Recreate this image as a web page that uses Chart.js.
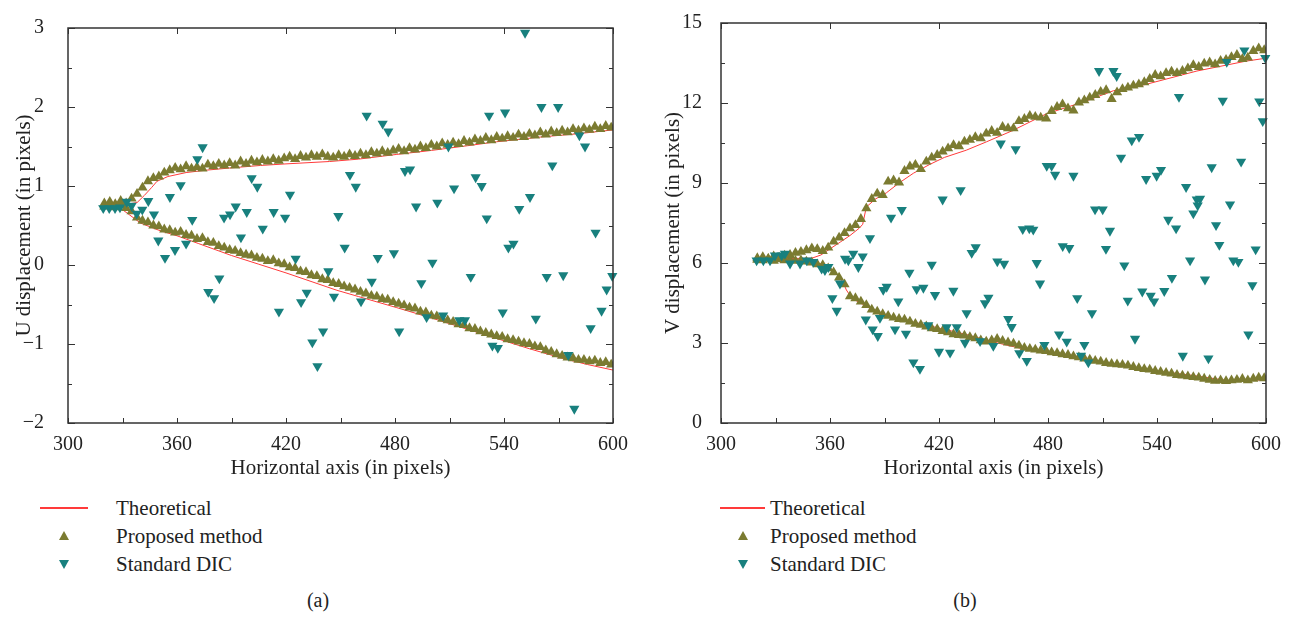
<!DOCTYPE html>
<html>
<head>
<meta charset="utf-8">
<script src="https://cdn.jsdelivr.net/npm/chart.js@4.4.1/dist/chart.umd.min.js"></script>
<style>
  html, body { margin: 0; padding: 0; background: #fff; }
  #page { position: relative; width: 1296px; height: 618px; overflow: hidden; font-family: "Liberation Serif", "DejaVu Serif", serif; color: #222; }
  canvas { position: absolute; top: 0; }
  .legend { position: absolute; top: 494px; }
  .row { position: absolute; left: 0; height: 28px; display: flex; align-items: center; font-size: 21px; white-space: nowrap; }
  .icon { position: relative; height: 28px; }
  .line { position: absolute; left: 0; top: 13px; height: 2px; background: #ff3a3a; }
  .up, .down { position: absolute; width: 0; height: 0; border-left: 5px solid transparent; border-right: 5px solid transparent; }
  .up { top: 9px; border-bottom: 9px solid #7b7b31; }
  .down { top: 10px; border-top: 9px solid #18807e; }
  .caption { position: absolute; top: 589px; font-size: 20px; width: 60px; text-align: center; }
</style>
</head>
<body>
<div id="page">
  <canvas id="chartU" width="648" height="490" style="left:0"></canvas>
  <canvas id="chartV" width="648" height="490" style="left:648px"></canvas>
  <div class="legend" id="legendU" style="left:40px"></div>
  <div class="legend" id="legendV" style="left:720px"></div>
  <div class="caption" style="left:288px">(a)</div>
  <div class="caption" style="left:935px">(b)</div>
</div>
<script>
const colors = { theory: "#ff3a3a", proposed: "#7b7b31", dic: "#18807e", frame: "#333" };
const seriesNames = ["Theoretical", "Proposed method", "Standard DIC"];

// sample positions of the proposed method (pixels)
const xGrid = [
  320, 323, 326, 329, 332, 335, 338, 341, 344, 347,
  350, 353, 356, 359, 362, 365, 368, 371, 374, 377,
  380, 383, 386, 389, 392, 395, 398, 401, 404, 407,
  410, 413, 416, 419, 422, 425, 428, 431, 434, 437,
  440, 443, 446, 449, 452, 455, 458, 461, 464, 467,
  470, 473, 476, 479, 482, 485, 488, 491, 494, 497,
  500, 503, 506, 509, 512, 515, 518, 521, 524, 527,
  530, 533, 536, 539, 542, 545, 548, 551, 554, 557,
  560, 563, 566, 569, 572, 575, 578, 581, 584, 587,
  590, 593, 596, 599,
];

// (a) U displacement, proposed method
const uUpper = [
  0.78, 0.80, 0.77, 0.81, 0.78, 0.84, 0.90, 0.98, 1.06, 1.10,
  1.12, 1.17, 1.20, 1.23, 1.21, 1.25, 1.22, 1.24, 1.22, 1.27,
  1.25, 1.28, 1.26, 1.29, 1.26, 1.31, 1.28, 1.32, 1.30, 1.33,
  1.31, 1.34, 1.32, 1.35, 1.37, 1.34, 1.38, 1.36, 1.39, 1.37,
  1.40, 1.37, 1.36, 1.39, 1.37, 1.40, 1.38, 1.41, 1.39, 1.43,
  1.41, 1.44, 1.42, 1.45, 1.47, 1.44, 1.48, 1.46, 1.50, 1.48,
  1.52, 1.50, 1.54, 1.52, 1.55, 1.53, 1.57, 1.55, 1.59, 1.57,
  1.61, 1.58, 1.62, 1.60, 1.63, 1.61, 1.65, 1.62, 1.66, 1.64,
  1.68, 1.65, 1.69, 1.67, 1.70, 1.68, 1.72, 1.70, 1.73, 1.71,
  1.75, 1.72, 1.76, 1.74,
];
const uLower = [
  0.74, 0.77, 0.73, 0.76, 0.72, 0.68, 0.60, 0.56, 0.54, 0.50,
  0.49, 0.45, 0.44, 0.41, 0.42, 0.38, 0.37, 0.33, 0.34, 0.29,
  0.28, 0.24, 0.22, 0.19, 0.18, 0.15, 0.13, 0.12, 0.09, 0.08,
  0.05, 0.06, 0.02, 0.01, -0.03, -0.04, -0.08, -0.09, -0.13, -0.14,
  -0.18, -0.19, -0.23, -0.24, -0.27, -0.29, -0.31, -0.34, -0.36, -0.39,
  -0.40, -0.43, -0.44, -0.47, -0.49, -0.51, -0.54, -0.55, -0.59, -0.60,
  -0.64, -0.65, -0.68, -0.70, -0.72, -0.75, -0.76, -0.80, -0.81, -0.84,
  -0.86, -0.88, -0.90, -0.91, -0.94, -0.95, -0.97, -0.99, -1.00, -1.03,
  -1.04, -1.08, -1.10, -1.13, -1.15, -1.17, -1.18, -1.20, -1.20, -1.22,
  -1.21, -1.24, -1.23, -1.26,
];

// (a) theoretical curves
const uTheoryUpperX = [320, 330, 338, 342, 346, 349, 355, 365, 376, 390, 406, 420, 444, 460, 481, 500, 520, 536, 560, 580, 600];
const uTheoryUpperY = [0.74, 0.76, 0.79, 0.88, 0.98, 1.06, 1.12, 1.17, 1.20, 1.23, 1.26, 1.28, 1.31, 1.34, 1.40, 1.45, 1.51, 1.56, 1.62, 1.66, 1.71];
const uTheoryLowerX = [320, 330, 340, 350, 360, 372, 390, 405, 420, 448, 460, 481, 500, 518, 536, 554, 572, 586, 600];
const uTheoryLowerY = [0.75, 0.70, 0.53, 0.44, 0.37, 0.27, 0.12, 0.01, -0.10, -0.32, -0.40, -0.54, -0.67, -0.80, -0.93, -1.06, -1.18, -1.26, -1.33];

// (a) standard DIC
const uDicX = [
  319.4, 322.7, 325.9, 328.6, 332.3, 335.0, 337.8, 340.9, 344.2, 347.3,
  349.7, 353.4, 356.1, 358.9, 362.0, 365.0, 368.4, 371.2, 374.1, 377.2,
  380.4, 383.3, 385.9, 389.2, 392.3, 395.2, 398.4, 401.1, 404.2, 407.2,
  413.2, 416.1, 419.5, 422.2, 425.3, 428.3, 431.4, 434.5, 437.3, 440.4,
  443.3, 446.4, 448.8, 452.3, 455.2, 458.4, 461.3, 464.4, 467.2, 470.5,
  473.2, 476.3, 479.4, 482.3, 485.5, 488.3, 491.6, 494.5, 497.4, 500.6,
  503.3, 506.5, 509.4, 512.5, 515.4, 518.5, 521.7, 524.4, 527.7, 530.5,
  531.8, 533.6, 536.6, 539.3, 540.6, 542.4, 545.2, 548.4, 551.6, 554.3,
  557.5, 560.6, 563.5, 566.6, 569.8, 572.6, 575.4, 578.7, 581.5, 584.6,
  587.7, 590.4, 593.7, 596.5, 599.6,
];
const uDicY = [
  0.72, 0.72, 0.72, 0.73, 0.80, 0.75, 0.65, 0.70, 0.81, 0.64,
  0.31, 0.09, 0.86, 0.19, 1.01, 0.27, 0.57, 1.34, 1.49, -0.34,
  -0.42, -0.17, 0.60, 0.64, 0.74, 0.35, 0.67, 1.10, 0.99, 0.46,
  0.67, -0.59, 0.60, 0.89, 0.08, -0.47, -0.35, -0.98, -1.28, -0.84,
  -0.08, -0.40, 0.62, 0.22, 1.14, 0.99, -0.46, 1.89, -0.21, 0.09,
  1.79, 1.69, 0.15, -0.84, 1.19, 1.21, 0.74, -0.23, -0.66, 0.03,
  0.79, -0.64, 1.50, 0.97, -0.70, -0.70, -0.15, 1.11, 1.00, 0.59,
  1.89, -1.02, -1.05, -0.60, 1.93, 0.22, 0.27, 0.71, 2.94, 0.86,
  -0.68, 2.00, -0.15, 1.26, 2.00, -0.13, -1.14, -1.82, 1.64, 1.50,
  -0.80, 0.41, -0.58, -0.31, -0.14,
];

// (b) V displacement, proposed method
const vUpper = [
  6.18, 6.22, 6.15, 6.25, 6.20, 6.28, 6.30, 6.38, 6.42, 6.48,
  6.55, 6.52, 6.45, 6.58, 6.80, 6.95, 7.12, 7.30, 7.42, 7.65,
  8.05, 8.40, 8.60, 8.55, 9.05, 9.10, 9.02, 9.45, 9.62, 9.68,
  9.52, 9.80, 9.95, 10.05, 10.18, 10.30, 10.42, 10.38, 10.55, 10.62,
  10.72, 10.68, 10.85, 10.95, 10.88, 11.10, 11.05, 11.05, 11.32, 11.40,
  11.52, 11.48, 11.45, 11.42, 11.70, 11.85, 11.95, 11.80, 11.72, 12.02,
  12.10, 12.20, 12.30, 12.42, 12.48, 12.15, 12.40, 12.52, 12.58, 12.65,
  12.70, 12.78, 12.90, 13.05, 13.00, 13.12, 13.18, 13.12, 13.20, 13.30,
  13.42, 13.35, 13.48, 13.52, 13.45, 13.58, 13.62, 13.72, 13.80, 13.65,
  13.70, 13.95, 14.05, 13.98,
];
const vLower = [
  6.12, 6.10, 6.15, 6.08, 6.14, 6.10, 6.12, 6.08, 6.10, 6.05,
  6.02, 5.95, 5.92, 5.80, 5.65, 5.45, 5.20, 4.75, 4.68, 4.55,
  4.42, 4.25, 4.18, 4.08, 4.02, 3.95, 3.90, 3.88, 3.80, 3.72,
  3.68, 3.62, 3.55, 3.52, 3.45, 3.40, 3.33, 3.30, 3.28, 3.22,
  3.18, 3.10, 3.05, 3.10, 3.15, 3.08, 3.02, 2.98, 2.90, 2.82,
  2.78, 2.75, 2.72, 2.70, 2.65, 2.62, 2.58, 2.55, 2.50, 2.46,
  2.42, 2.38, 2.33, 2.30, 2.25, 2.22, 2.20, 2.18, 2.15, 2.10,
  2.06, 2.02, 2.00, 1.95, 1.92, 1.88, 1.85, 1.80, 1.78, 1.75,
  1.72, 1.70, 1.66, 1.62, 1.58, 1.60, 1.57, 1.60, 1.62, 1.65,
  1.60, 1.66, 1.70, 1.68,
];

// (b) theoretical curves
const vTheoryUpperX = [320, 350, 355, 360, 366, 371, 376, 378, 380, 385, 391, 398, 406, 415, 423, 435, 446, 460, 479, 500, 516, 534, 562, 589, 600];
const vTheoryUpperY = [6.15, 6.18, 6.30, 6.53, 6.80, 7.03, 7.30, 7.45, 8.10, 8.40, 8.63, 9.00, 9.37, 9.70, 9.96, 10.23, 10.54, 10.95, 11.59, 12.05, 12.46, 12.70, 13.20, 13.57, 13.68];
const vTheoryLowerX = [320, 350, 356, 362, 367, 369, 372, 378, 389, 408, 435, 448, 470, 500, 540, 560, 580, 600];
const vTheoryLowerY = [6.15, 6.05, 5.95, 5.73, 5.30, 4.99, 4.68, 4.45, 4.03, 3.75, 3.32, 3.07, 2.72, 2.40, 1.95, 1.78, 1.58, 1.62];

// (b) standard DIC
const vDicX = [
  319.6, 323.3, 327.0, 329.7, 333.4, 335.2, 338.0, 343.5, 347.2, 350.8,
  355.4, 357.2, 359.1, 361.3, 363.7, 365.5, 368.3, 370.1, 372.8, 375.6,
  378.0, 382.0, 379.7, 383.5, 386.3, 387.5, 389.3, 391.2, 393.6, 399.5,
  395.8, 397.6, 401.8, 403.7, 405.9, 409.5, 407.7, 411.4, 414.1, 416.0,
  417.8, 420.0, 422.0, 424.2, 426.1, 427.9, 429.8, 431.9, 434.3, 435.2,
  438.0, 440.2, 442.6, 445.3, 447.2, 449.9, 452.1, 454.0, 455.8, 458.1,
  460.0, 462.2, 464.2, 466.1, 468.3, 469.7, 471.9, 473.8, 475.6, 478.0,
  479.3, 482.0, 483.9, 486.1, 488.1, 490.3, 491.7, 494.0, 496.1, 498.2,
  500.0, 502.2, 504.2, 505.9, 508.1, 510.1, 511.9, 514.1, 516.0, 517.8,
  520.2, 522.0, 523.9, 526.1, 527.9, 530.1, 531.9, 534.0, 536.5, 538.4,
  539.8, 542.2, 544.0, 546.2, 548.2, 550.5, 552.1, 554.2, 556.0, 558.2,
  560.0, 561.9, 562.4, 563.7, 566.4, 568.3, 570.1, 572.5, 574.3, 576.2,
  578.4, 580.2, 582.0, 584.8, 586.3, 588.1, 590.3, 592.5, 594.3, 596.3,
  598.2, 599.6,
];
const vDicY = [
  6.10, 6.10, 6.10, 6.28, 6.28, 6.35, 5.98, 5.98, 6.10, 6.04,
  5.79, 5.73, 5.85, 4.68, 4.21, 5.23, 6.16, 6.10, 6.35, 5.85,
  6.25, 6.93, 3.88, 3.51, 3.26, 3.94, 4.99, 5.11, 7.70, 7.99,
  3.51, 4.56, 3.35, 5.64, 2.27, 2.03, 5.02, 5.07, 3.67, 5.94,
  4.80, 2.67, 8.38, 3.59, 2.64, 4.96, 3.59, 8.73, 3.01, 4.12,
  6.38, 6.59, 3.07, 4.49, 4.70, 2.89, 6.06, 10.48, 5.97, 3.90,
  3.60, 10.27, 2.62, 7.27, 2.33, 7.30, 7.25, 6.00, 5.23, 2.93,
  9.64, 9.64, 9.31, 3.32, 6.63, 3.05, 6.56, 9.27, 4.68, 2.52,
  2.93, 2.27, 4.12, 8.01, 13.20, 8.01, 6.53, 7.21, 13.20, 13.01,
  9.95, 5.91, 4.59, 10.60, 3.16, 10.73, 4.93, 9.15, 4.77, 4.56,
  9.27, 9.49, 4.95, 7.62, 5.44, 7.30, 12.23, 2.52, 8.85, 6.10,
  7.86, 8.38, 8.16, 8.41, 5.38, 2.42, 9.59, 7.42, 6.68, 12.09,
  13.54, 8.20, 6.10, 6.04, 9.80, 13.97, 3.32, 5.17, 6.51, 12.06,
  11.32, 13.69,
];

const tickFont = { family: '"Liberation Serif", "DejaVu Serif", serif', size: 20 };
const titleFont = { family: '"Liberation Serif", "DejaVu Serif", serif', size: 21 };
const markerRadius = 5.9;

function points(xs, ys) {
  return xs.map((x, i) => ({ x: x, y: ys[i] }));
}

function minusLabel(v) {
  return v < 0 ? "\u2212" + Math.abs(v) : String(v);
}

// frame with inward ticks, like the original plotting software
const framePlugin = {
  id: "frame",
  afterDatasetsDraw(chart) {
    const { ctx, chartArea: a, scales } = chart;
    const x = scales.x, y = scales.y;
    const xStep = 60, yStep = chart.options.scales.y.ticks.stepSize;
    ctx.save();
    ctx.strokeStyle = colors.frame;
    ctx.lineWidth = 1;
    ctx.beginPath();
    for (let v = x.min; v <= x.max + 1e-9; v += xStep / 2) {
      const px = Math.round(x.getPixelForValue(v)) + 0.5;
      ctx.moveTo(px, a.bottom);
      ctx.lineTo(px, a.bottom - 5);
      if (Math.abs((v - x.min) % xStep) < 1e-6) {
        ctx.moveTo(px, a.top);
        ctx.lineTo(px, a.top + 6);
      }
    }
    for (let v = y.min; v <= y.max + 1e-9; v += yStep / 2) {
      const py = Math.round(y.getPixelForValue(v)) + 0.5;
      const major = Math.abs(((v - y.min) / yStep) - Math.round((v - y.min) / yStep)) < 1e-6;
      const len = major ? 7 : 4;
      ctx.moveTo(a.left, py);
      ctx.lineTo(a.left + len, py);
      ctx.moveTo(a.right, py);
      ctx.lineTo(a.right - len, py);
    }
    ctx.stroke();
    ctx.lineWidth = 1.5;
    ctx.strokeRect(a.left, a.top, a.right - a.left, a.bottom - a.top);
    ctx.restore();
  },
};

function makeChart(id, cfg) {
  const datasets = [
    {
      label: seriesNames[2],
      data: points(cfg.dicX, cfg.dicY),
      pointStyle: "triangle",
      rotation: 180,
      pointRadius: markerRadius,
      backgroundColor: colors.dic,
      borderWidth: 0,
      clip: false,
      order: 0,
    },
    {
      label: seriesNames[1],
      data: points(xGrid, cfg.upper),
      pointStyle: "triangle",
      pointRadius: markerRadius,
      backgroundColor: colors.proposed,
      borderWidth: 0,
      order: 1,
    },
    {
      label: seriesNames[1],
      data: points(xGrid, cfg.lower),
      pointStyle: "triangle",
      pointRadius: markerRadius,
      backgroundColor: colors.proposed,
      borderWidth: 0,
      order: 1,
    },
    {
      label: seriesNames[0],
      data: points(cfg.thUpperX, cfg.thUpperY),
      showLine: true,
      borderColor: colors.theory,
      borderWidth: 1,
      pointRadius: 0,
      order: 2,
    },
    {
      label: seriesNames[0],
      data: points(cfg.thLowerX, cfg.thLowerY),
      showLine: true,
      borderColor: colors.theory,
      borderWidth: 1,
      pointRadius: 0,
      order: 2,
    },
  ];

  return new Chart(document.getElementById(id), {
    type: "scatter",
    data: { datasets: datasets },
    options: {
      responsive: false,
      animation: false,
      devicePixelRatio: 1,
      layout: { padding: { left: 0, top: 18, right: cfg.padRight, bottom: 0 } },
      plugins: { legend: { display: false }, tooltip: { enabled: false } },
      scales: {
        x: {
          type: "linear",
          min: 300,
          max: 600,
          afterFit: (s) => { s.height = 67; },
          grid: { display: false },
          border: { display: false },
          ticks: { stepSize: 60, color: "#222", font: tickFont, padding: 2, maxRotation: 0 },
          title: { display: true, text: "Horizontal axis (in pixels)", color: "#222", font: titleFont, padding: { top: 0, bottom: 9 } },
        },
        y: {
          type: "linear",
          min: cfg.yMin,
          max: cfg.yMax,
          afterFit: (s) => { s.width = cfg.yWidth; },
          grid: { display: false },
          border: { display: false },
          ticks: { stepSize: cfg.yStep, color: "#222", font: tickFont, padding: cfg.tickPad, callback: minusLabel },
          title: { display: true, text: cfg.yTitle, color: "#222", font: titleFont, padding: { top: cfg.titlePad, bottom: 0 } },
        },
      },
    },
    plugins: [framePlugin],
  });
}

makeChart("chartU", {
  yMin: -2, yMax: 3, yStep: 1, yWidth: 68, padRight: 35, tickPad: 16, titlePad: 12,
  yTitle: "U displacement (in pixels)",
  upper: uUpper, lower: uLower,
  thUpperX: uTheoryUpperX, thUpperY: uTheoryUpperY,
  thLowerX: uTheoryLowerX, thLowerY: uTheoryLowerY,
  dicX: uDicX, dicY: uDicY,
});

makeChart("chartV", {
  yMin: 0, yMax: 15, yStep: 3, yWidth: 73, padRight: 30, tickPad: 11, titlePad: 13,
  yTitle: "V displacement (in pixels)",
  upper: vUpper, lower: vLower,
  thUpperX: vTheoryUpperX, thUpperY: vTheoryUpperY,
  thLowerX: vTheoryLowerX, thLowerY: vTheoryLowerY,
  dicX: vDicX, dicY: vDicY,
});

// legend under each panel
function buildLegend(id, iconWidth, textLeft) {
  const box = document.getElementById(id);
  const icons = [
    `<div class="line" style="width:${iconWidth}px"></div>`,
    `<div class="up" style="left:${iconWidth / 2 - 5}px"></div>`,
    `<div class="down" style="left:${iconWidth / 2 - 5}px"></div>`,
  ];
  seriesNames.forEach((name, i) => {
    const row = document.createElement("div");
    row.className = "row";
    row.style.top = i * 28 + "px";
    row.innerHTML = `<div class="icon" style="width:${textLeft}px">${icons[i]}</div><span>${name}</span>`;
    box.appendChild(row);
  });
}
buildLegend("legendU", 48, 76);
buildLegend("legendV", 45, 50);
</script>
</body>
</html>
